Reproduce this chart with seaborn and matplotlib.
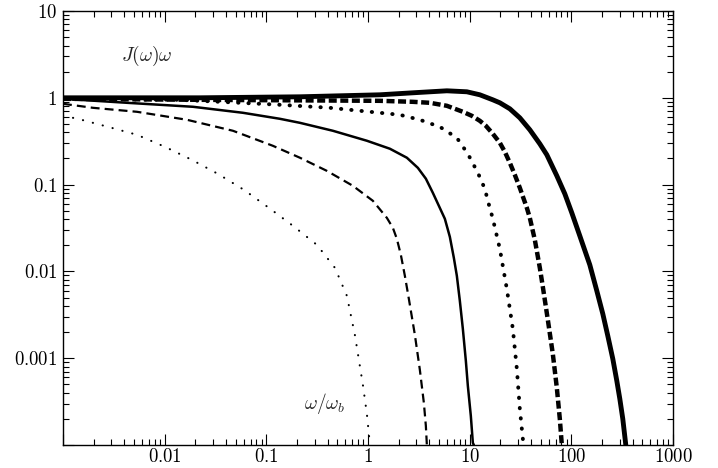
import numpy as np
import pandas as pd
import seaborn as sns
import matplotlib
matplotlib.use("Agg")
import matplotlib.pyplot as plt
from matplotlib.ticker import LogLocator, NullFormatter

# curve values (log-log)
x1 = [0.001, 0.0014, 0.00277, 0.00534, 0.0101, 0.0185, 0.0334, 0.0602, 0.106, 0.183, 0.315, 0.473, 0.62, 0.743, 0.891, 0.975, 1.02, 1.045]
y1 = [0.62, 0.573, 0.463, 0.375, 0.272, 0.193, 0.133, 0.0871, 0.054, 0.0335, 0.0202, 0.011, 0.00524, 0.00186, 0.000494, 0.000229, 0.000135, 0.0001]

x2 = [0.001, 0.00197, 0.00534, 0.0166, 0.0470, 0.116, 0.214, 0.394, 0.710, 1.117, 1.534, 1.757, 1.924, 2.106, 2.306, 2.524,
      2.892, 3.238, 3.546, 3.710, 3.795]
y2 = [0.853, 0.767, 0.690, 0.558, 0.417, 0.280, 0.204, 0.144, 0.0969, 0.0651, 0.0414, 0.0318, 0.0237, 0.0155, 0.0089, 0.00483,
      0.00186, 0.000735, 0.000306, 0.000166, 0.0001]

x3 = [0.001, 0.00426, 0.019, 0.0589, 0.136, 0.214, 0.452, 0.976, 1.642, 2.413, 3.095, 3.710, 4.346, 4.979, 5.704, 6.388, 6.991,
      7.484, 8.008, 8.574, 9.176, 9.60, 10.27, 10.75, 11.0]
y3 = [0.974, 0.876, 0.788, 0.672, 0.573, 0.515, 0.417, 0.320, 0.259, 0.204, 0.156, 0.117, 0.0804, 0.0570, 0.0404, 0.0250, 0.01435,
      0.0089, 0.00459, 0.00218, 0.000933, 0.000481, 0.000217, 0.000106, 0.0001]

x4 = [0.001, 0.0141, 0.136, 0.422, 1.309, 2.059, 3.238, 5.093, 7.484, 9.60, 12.04, 14.11, 15.10, 16.91, 19.81, 23.21, 26.60, 29.12, 31.16, 33.36, 34.12]
y4 = [0.974, 0.948, 0.831, 0.767, 0.672, 0.637, 0.558, 0.463, 0.346, 0.226, 0.137, 0.0894, 0.0651, 0.0404, 0.0182, 0.0063, 0.00218, 0.000755, 0.000261, 0.000118, 0.0001]

x5 = [0.001, 0.0222, 1.309, 2.764, 4.062, 5.969, 8.574, 10.51, 12.60, 14.43, 16.91, 19.82, 22.19, 24.85, 27.82, 31.16, 36.52,
      39.08, 43.77, 49.01, 52.46, 58.75, 65.79, 72.03, 77.09, 80.66]
y5 = [0.974, 0.948, 0.923, 0.899, 0.876, 0.809, 0.690, 0.620, 0.543, 0.476, 0.385, 0.303, 0.2387, 0.1783, 0.1297, 0.0918, 0.0540,
      0.0414, 0.0231, 0.0110, 0.00665, 0.00277, 0.00112, 0.000456, 0.0002, 0.0001]

x6 = [0.001, 0.0222, 0.214, 1.309, 2.764, 5.969, 9.387, 12.60, 16.91, 19.82, 24.85, 31.16, 39.08, 49.01, 57.43, 72.03, 86.34,
      101.1, 121.2, 152.0, 178.1, 204.0, 228.5, 255.9, 280.2, 299.9, 320.9, 343.5]
y6 = [1.0, 1.0, 1.027, 1.083, 1.142, 1.204, 1.173, 1.083, 0.948, 0.876, 0.747, 0.588, 0.428, 0.295, 0.2205, 0.1263, 0.0783,
      0.0473, 0.0257, 0.01191, 0.00598, 0.00325, 0.00181, 0.000984, 0.000549, 0.000341, 0.0002, 0.0001]

xtick_vals = [0.001, 0.01, 0.1, 1, 10, 100, 1000]
xtick_labels = ['', '0.01', '0.1', '1', '10', '100', '1000']
ytick_vals = [0.0001, 0.001, 0.01, 0.1, 1, 10]
ytick_labels = ['', '0.001', '0.01', '0.1', '1', '10']

sns.set_style('ticks')
plt.rcParams['mathtext.fontset'] = 'cm'
plt.rcParams['font.family'] = ['DejaVu Serif']

fig = plt.figure(figsize=(7.18, 4.68), dpi=100)
ax = fig.add_axes([0.0877, 0.0491, 0.8496, 0.9274])

styles = [
    (x1, y1, 1.5, (0, (0.1, 4.8)), 'round'),
    (x2, y2, 1.6, (0, (4.0, 2.3)), 'butt'),
    (x3, y3, 1.8, '-', 'butt'),
    (x4, y4, 2.8, (0, (0.1, 2.55)), 'round'),
    (x5, y5, 3.2, (0, (1.8, 0.8)), 'butt'),
    (x6, y6, 3.5, '-', 'butt'),
]
for xs, ys, lw, ls, cap in styles:
    df = pd.DataFrame({'w': xs, 'J': ys})
    sns.lineplot(data=df, x='w', y='J', ax=ax, color='black', lw=lw,
                 linestyle=ls, dash_capstyle=cap, solid_joinstyle='round', estimator=None)

ax.set_xscale('log')
ax.set_yscale('log')
ax.set_xlim(0.001, 1000)
ax.set_ylim(0.0001, 10)
ax.set_xlabel('')
ax.set_ylabel('')

ax.set_xticks(xtick_vals, labels=['$' + t + '$' if t else '' for t in xtick_labels])
ax.set_yticks(ytick_vals, labels=['$' + t + '$' if t else '' for t in ytick_labels])
ax.xaxis.set_minor_locator(LogLocator(base=10, subs=np.arange(2, 10)))
ax.yaxis.set_minor_locator(LogLocator(base=10, subs=np.arange(2, 10)))
ax.xaxis.set_minor_formatter(NullFormatter())
ax.yaxis.set_minor_formatter(NullFormatter())
ax.tick_params(which='both', direction='in', top=True, right=True, labelsize=13.5, width=0.8, colors='black')
ax.tick_params(which='major', length=8)
ax.tick_params(which='minor', length=4.5)
ax.tick_params(axis='x', pad=2)
ax.tick_params(axis='y', pad=4)
for s in ax.spines.values():
    s.set_linewidth(1.0)
    s.set_color('black')

ax.text(0.0067, 3.05, r'$J(\omega)\omega$', fontsize=14, ha='center', va='center')
ax.text(0.377, 0.000298, r'$\omega/\omega_b$', fontsize=14, ha='center', va='center')

fig.savefig('out.png', dpi=100)
